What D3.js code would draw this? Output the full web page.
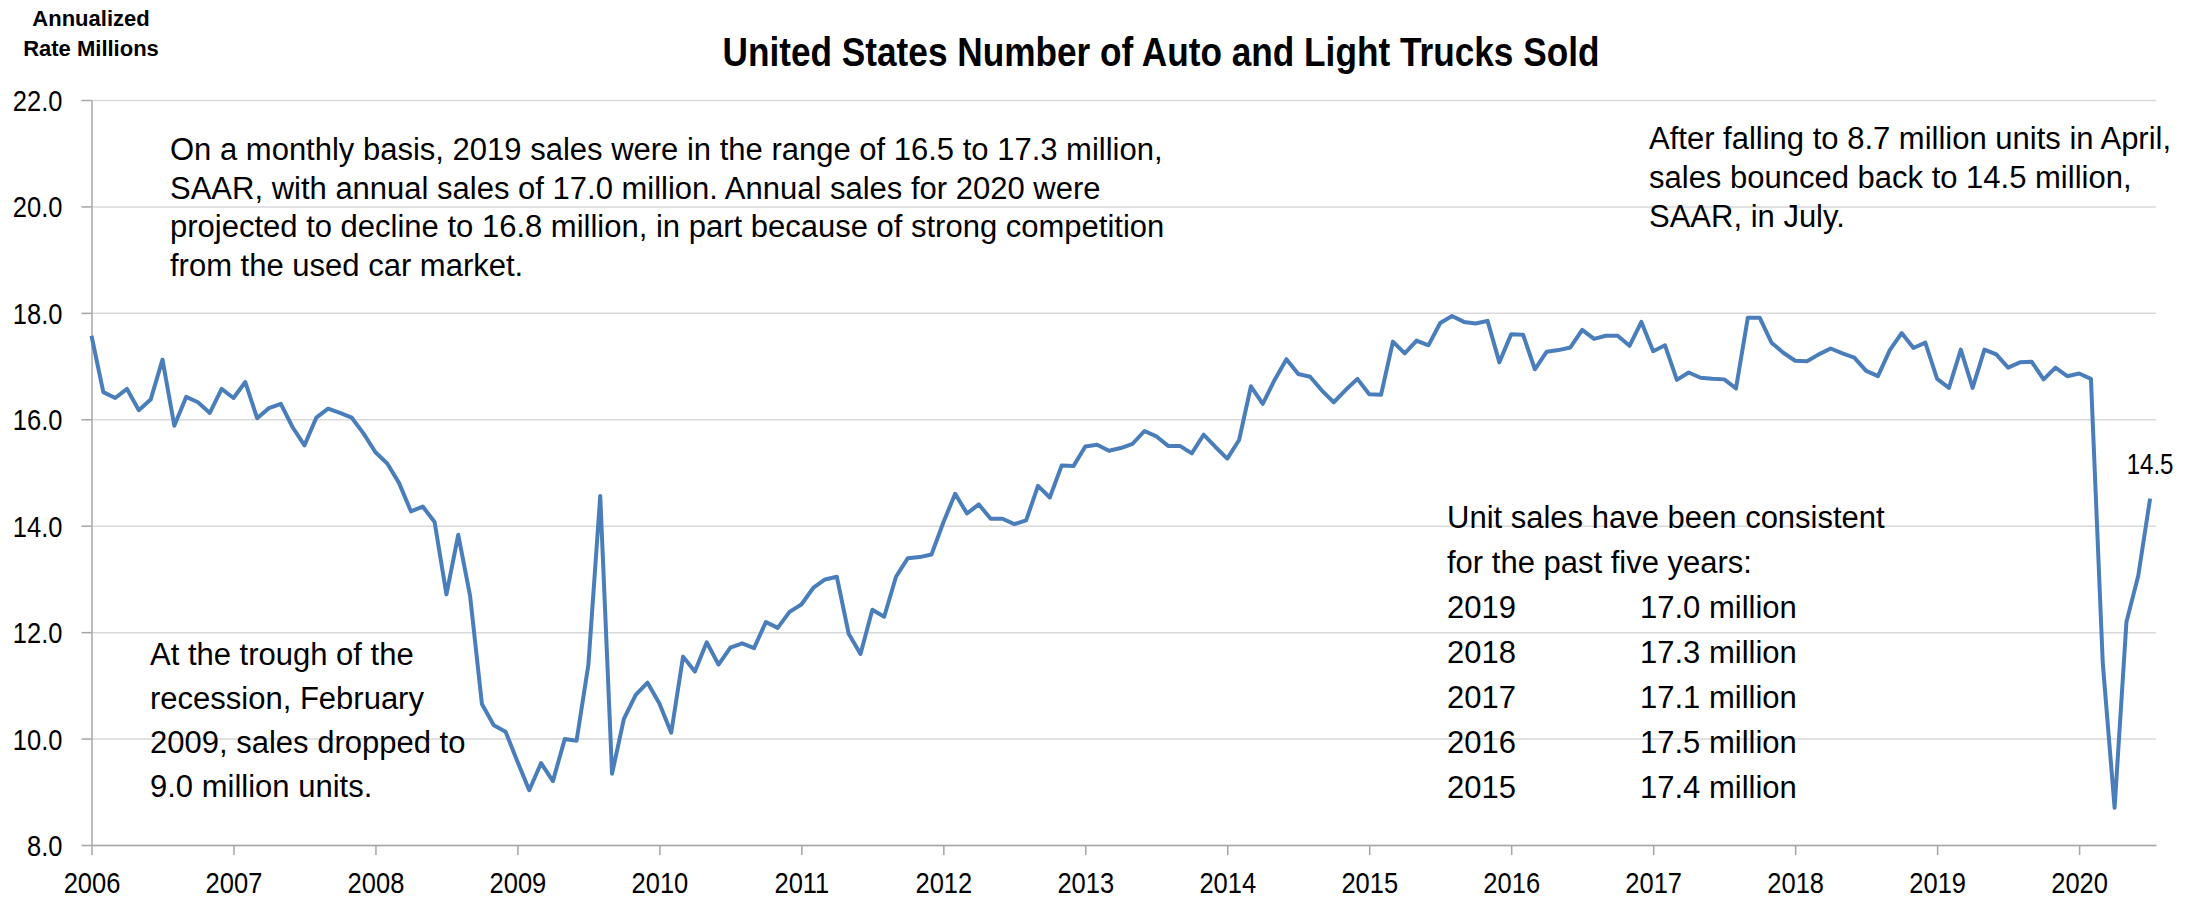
<!DOCTYPE html>
<html>
<head>
<meta charset="utf-8">
<script src="https://cdnjs.cloudflare.com/ajax/libs/d3/7.8.5/d3.min.js"></script>
<style>
  body { margin: 0; background: #fff; }
  text { font-family: "Liberation Sans", Arial, sans-serif; fill: #000; }
</style>
</head>
<body>
<script>
// seasonally adjusted annual rate, millions of units, Jan..Dec
var s2006 = [17.57, 16.51, 16.40, 16.57, 16.17, 16.37, 17.12, 15.88, 16.42, 16.32, 16.12, 16.57];
var s2007 = [16.40, 16.70, 16.02, 16.21, 16.29, 15.85, 15.51, 16.03, 16.20, 16.12, 16.03, 15.73];
var s2008 = [15.38, 15.17, 14.80, 14.27, 14.36, 14.07, 12.71, 13.83, 12.68, 10.65, 10.25, 10.13];
var s2009 = [9.57, 9.03, 9.54, 9.20, 9.99, 9.96, 11.39, 14.56, 9.34, 10.37, 10.82, 11.05];
var s2010 = [10.66, 10.11, 11.54, 11.26, 11.81, 11.39, 11.71, 11.79, 11.70, 12.19, 12.08, 12.38];
var s2011 = [12.52, 12.83, 12.99, 13.04, 11.97, 11.59, 12.42, 12.29, 13.04, 13.39, 13.41, 13.46];
var s2012 = [14.06, 14.60, 14.23, 14.40, 14.13, 14.13, 14.03, 14.10, 14.75, 14.53, 15.13, 15.12];
var s2013 = [15.49, 15.52, 15.41, 15.46, 15.54, 15.78, 15.68, 15.50, 15.50, 15.36, 15.71, 15.48];
var s2014 = [15.26, 15.61, 16.62, 16.29, 16.74, 17.13, 16.85, 16.80, 16.54, 16.32, 16.55, 16.76];
var s2015 = [16.47, 16.46, 17.46, 17.24, 17.48, 17.39, 17.81, 17.94, 17.83, 17.80, 17.85, 17.07];
var s2016 = [17.60, 17.59, 16.94, 17.27, 17.30, 17.35, 17.68, 17.51, 17.57, 17.57, 17.38, 17.83];
var s2017 = [17.28, 17.39, 16.74, 16.88, 16.78, 16.76, 16.75, 16.58, 17.91, 17.91, 17.44, 17.25];
var s2018 = [17.10, 17.09, 17.22, 17.33, 17.24, 17.16, 16.91, 16.81, 17.30, 17.62, 17.34, 17.44];
var s2019 = [16.76, 16.59, 17.31, 16.59, 17.31, 17.22, 16.97, 17.07, 17.08, 16.75, 16.97, 16.81];
var s2020 = [16.86, 16.76, 11.42, 8.70, 12.19, 13.06, 14.51];

var years = d3.range(2006, 2021);
var yTicks = d3.range(8, 22.01, 2);

var noteTopLeft = [
  "On a monthly basis, 2019 sales were in the range of 16.5 to 17.3 million,",
  "SAAR, with annual sales of 17.0 million. Annual sales for 2020 were",
  "projected to decline to 16.8 million, in part because of strong competition",
  "from the used car market."
];
var noteBottomLeft = ["At the trough of the", "recession, February", "2009, sales dropped to", "9.0 million units."];
var noteTopRight = ["After falling to 8.7 million units in April,", "sales bounced back to 14.5 million,", "SAAR, in July."];
var noteHead = ["Unit sales have been consistent", "for the past five years:"];
var annualYears = ["2019", "2018", "2017", "2016", "2015"];
var annualSales = ["17.0 million", "17.3 million", "17.1 million", "17.5 million", "17.4 million"];

var sales = [].concat(s2006, s2007, s2008, s2009, s2010, s2011, s2012, s2013,
                      s2014, s2015, s2016, s2017, s2018, s2019, s2020);
var data = sales.map(function(v, i) { return {t: 2006 + i / 12, v: v}; });

var margin = {top: 100, bottom: 845, left: 91.5, right: 2156};

var svg = d3.select("body").append("svg")
  .attr("width", 2200)
  .attr("height", 899);

var x = d3.scaleLinear().domain([2006, 2006 + 174.5 / 12]).range([margin.left, margin.right]);
var y = d3.scaleLinear().domain([8, 22]).range([margin.bottom, margin.top]);

// squeeze numeric labels a bit, the original uses a narrow face
function condense(sel, f) {
  sel.each(function() {
    var w = this.getComputedTextLength();
    d3.select(this).attr("textLength", w * f).attr("lengthAdjust", "spacingAndGlyphs");
  });
}

// gridlines
svg.append("g")
  .attr("transform", "translate(" + margin.left + ",0)")
  .call(d3.axisLeft(y).tickValues(yTicks).tickSize(-(margin.right - margin.left)).tickFormat(""))
  .call(function(g) {
    g.select(".domain").remove();
    g.selectAll("line").attr("stroke", "#d9d9d9").attr("stroke-width", 1.5);
  });

// y axis
svg.append("g")
  .attr("transform", "translate(" + margin.left + ",0)")
  .call(d3.axisLeft(y).tickValues(yTicks).tickSize(10).tickSizeOuter(0).tickPadding(19).tickFormat(d3.format(".1f")))
  .call(function(g) {
    g.select(".domain").attr("stroke", "#a6a6a6").attr("stroke-width", 1.5);
    g.selectAll("line").attr("stroke", "#a6a6a6").attr("stroke-width", 1.5);
    g.selectAll("text").attr("font-size", 30).attr("dy", "0.35em").attr("fill", "#000");
  });

// x axis
svg.append("g")
  .attr("transform", "translate(0," + margin.bottom + ")")
  .call(d3.axisBottom(x).tickValues(years).tickSize(10).tickSizeOuter(0).tickPadding(17).tickFormat(d3.format("d")))
  .call(function(g) {
    g.select(".domain").attr("stroke", "#a6a6a6").attr("stroke-width", 1.5);
    g.selectAll("line").attr("stroke", "#a6a6a6").attr("stroke-width", 1.5);
    g.selectAll("text").attr("font-size", 30).attr("fill", "#000");
  });

svg.selectAll(".tick text").call(condense, 0.85);

var line = d3.line()
  .x(function(d) { return x(d.t); })
  .y(function(d) { return y(d.v); });

svg.append("path")
  .datum(data)
  .attr("fill", "none")
  .attr("stroke", "#4a7ebb")
  .attr("stroke-width", 4)
  .attr("stroke-linejoin", "round")
  .attr("d", line);

var last = data[data.length - 1];
svg.append("text")
  .attr("x", x(last.t))
  .attr("y", y(last.v) - 25)
  .attr("text-anchor", "middle")
  .attr("font-size", 29)
  .text(d3.format(".1f")(last.v))
  .call(condense, 0.83);

// title and unit label
svg.append("text")
  .attr("x", 1161).attr("y", 66)
  .attr("text-anchor", "middle")
  .attr("font-size", 40)
  .attr("font-weight", "bold")
  .text("United States Number of Auto and Light Trucks Sold")
  .attr("textLength", 877)
  .attr("lengthAdjust", "spacingAndGlyphs");

svg.selectAll(".unit")
  .data(["Annualized", "Rate Millions"])
  .enter().append("text")
  .attr("class", "unit")
  .attr("x", 91).attr("y", function(d, i) { return 26 + i * 30; })
  .attr("text-anchor", "middle")
  .attr("font-size", 22)
  .attr("font-weight", "bold")
  .text(function(d) { return d; });

function note(lines, x0, y0, step) {
  svg.append("g").selectAll("text")
    .data(lines)
    .enter().append("text")
    .attr("x", x0)
    .attr("y", function(d, i) { return y0 + i * step; })
    .attr("font-size", 31)
    .text(function(d) { return d; });
}

note(noteTopLeft, 170, 160, 38.5);
note(noteBottomLeft, 150, 665, 44);
note(noteTopRight, 1649, 149, 39);
note(noteHead, 1447, 528, 45);
note(annualYears, 1447, 618, 45);
note(annualSales, 1640, 618, 45);
</script>
</body>
</html>
